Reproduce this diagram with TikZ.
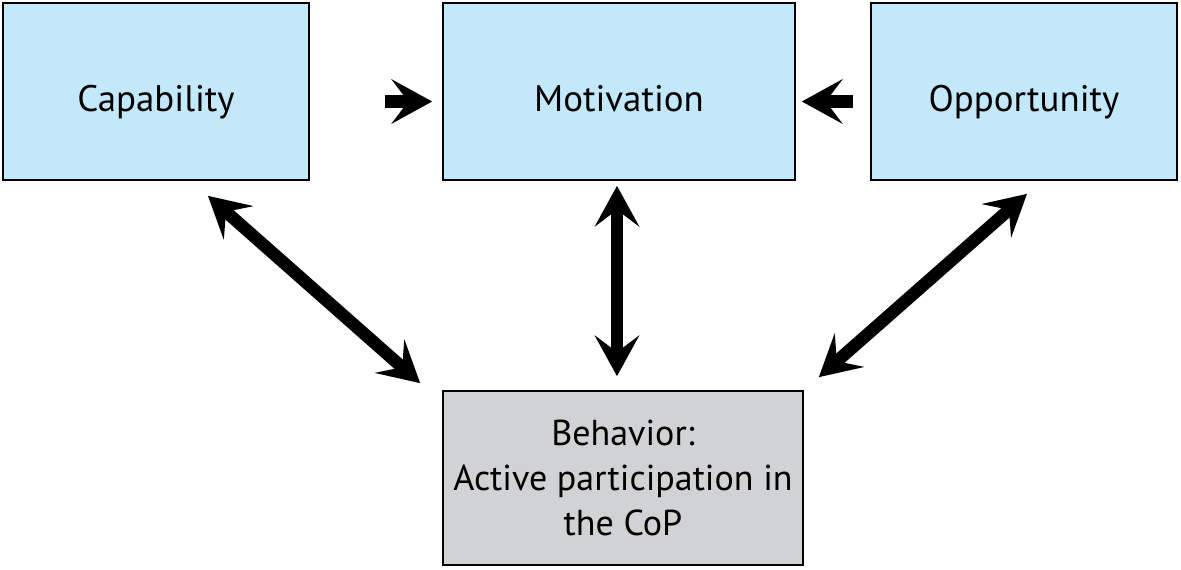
\documentclass[tikz,border=0pt]{standalone}
\usepackage{fontspec}
\setmainfont{PT Sans}
\usepackage{xcolor}
\usetikzlibrary{arrows.meta,positioning}
\definecolor{comblue}{HTML}{C2E8FA}
\definecolor{behgray}{HTML}{D1D2D4}

\begin{document}
\begin{tikzpicture}[
  x=0.02cm,y=-0.02cm,
  com/.style={draw,line width=1pt,fill=comblue,align=center,inner sep=0pt,
              text height=23pt,text depth=0pt,
              minimum width=6.12cm,minimum height=3.54cm,font=\fontsize{21}{26}\selectfont},
  beh/.style={draw,line width=1pt,fill=behgray,align=center,inner sep=0pt,
              minimum width=7.2cm,minimum height=3.48cm,font=\fontsize{20.5}{25.5}\selectfont},
  tip/.tip={Stealth[length=8.2mm,width=9mm,inset=3.4mm,line width=0pt]},
  flow/.style={tip-tip,line width=0.25cm},
  push/.style={-tip,line width=0.25cm}
]
\useasboundingbox (0,0) rectangle (1181,569);
\node[com] (cap) at (156,91.5) {Capability};
\node[com,minimum width=7.04cm] (mot) at (619,91.5) {Motivation};
\node[com] (opp) at (1024,91.5) {Opportunity};
\node[beh] (act) at (623,478) {Behavior:\\Active participation in\\the CoP};
\draw[push,shorten <=1.5cm,shorten >=0.2cm] ([yshift=-0.2cm]cap.east) -- ([yshift=-0.2cm]mot.west);
\draw[push,shorten <=0.34cm,shorten >=0.12cm] ([yshift=-0.2cm]opp.west) -- ([yshift=-0.2cm]mot.east);
\draw[flow] ([xshift=1.04cm,yshift=-0.3cm]cap.south) -- ([xshift=-0.44cm,yshift=0.14cm]act.north west);
\draw[flow,shorten <=0.1cm,shorten >=0.28cm] ([xshift=-0.04cm]mot.south) -- ([xshift=-0.04cm]mot.south |- act.north);
\draw[flow] ([xshift=0.06cm,yshift=-0.26cm]opp.south) -- ([xshift=0.3cm,yshift=0.26cm]act.north east);
\end{tikzpicture}
\end{document}
